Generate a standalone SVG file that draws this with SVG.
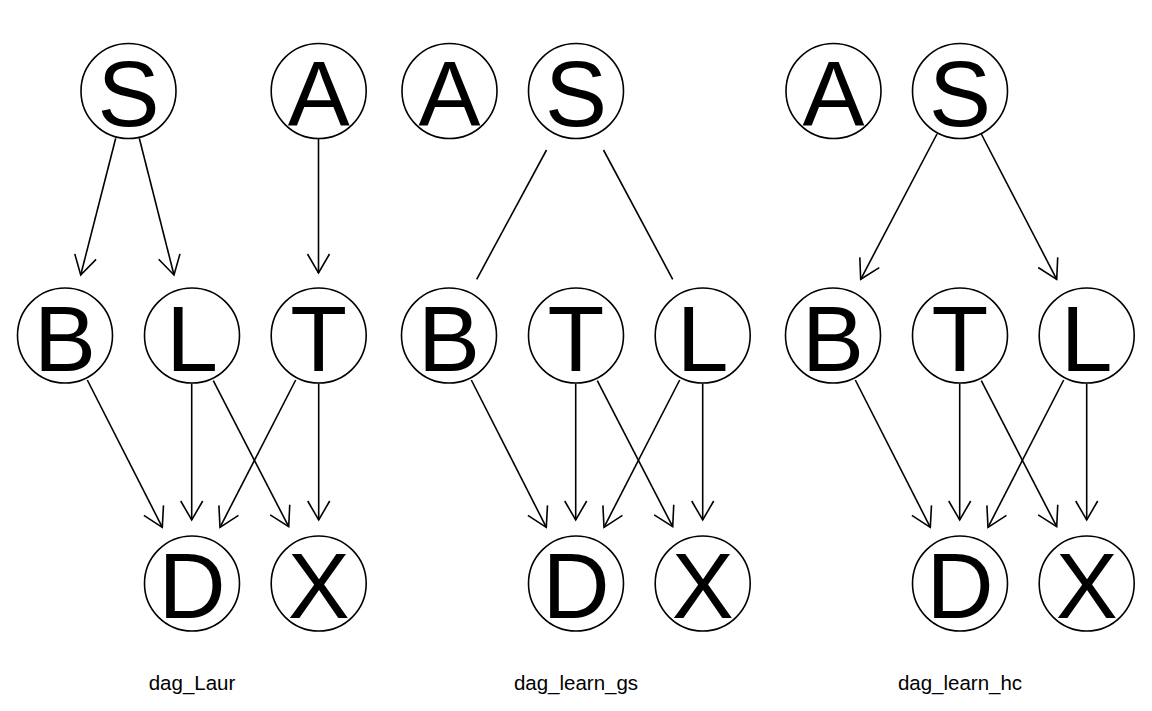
<svg xmlns="http://www.w3.org/2000/svg" width="1152" height="711" viewBox="0 0 1152 711">
<style>
  .node circle { fill: #fff; stroke: #000; stroke-width: 1.6; }
  .node text { font-family: "Liberation Sans", Arial, sans-serif; font-size: 93px; text-anchor: middle; fill: #000; }
  .edges line { stroke: #000; stroke-width: 1.6; fill: none; }
  .edges line.d { marker-end: url(#ah); }
  .lbl { font-family: "Liberation Sans", Arial, sans-serif; font-size: 20.5px; text-anchor: middle; fill: #000; }
</style>
<defs>
  <marker id="ah" markerUnits="userSpaceOnUse" viewBox="-22 -13 24 26" markerWidth="24" markerHeight="26" refX="0" refY="0" orient="auto">
    <path d="M-19,-11 L0,0 L-19,11" fill="none" stroke="#000" stroke-width="1.6"/>
  </marker>
</defs>
<rect width="1152" height="711" fill="#fff"/>

<g class="edges" id="connectors">
  <!-- panel 1: dag_Laur -->
  <line class="d" x1="115.7" y1="138.3" x2="80.7" y2="275"/>
  <line class="d" x1="139.3" y1="138.3" x2="174" y2="275"/>
  <line class="d" x1="318.5" y1="138.3" x2="318.5" y2="273"/>
  <line class="d" x1="87.3" y1="380" x2="162.3" y2="527.3"/>
  <line class="d" x1="191.7" y1="383.5" x2="191.7" y2="520"/>
  <line class="d" x1="213.3" y1="380.7" x2="288.7" y2="526.7"/>
  <line class="d" x1="295.7" y1="380" x2="220" y2="527.3"/>
  <line class="d" x1="318.7" y1="383.5" x2="318.7" y2="520"/>
  <!-- panel 2: dag_learn_gs -->
  <line x1="546.5" y1="150" x2="476.7" y2="279.3"/>
  <line x1="603.5" y1="150" x2="672.7" y2="279.3"/>
  <line class="d" x1="471.3" y1="380" x2="546.3" y2="527.3"/>
  <line class="d" x1="575.7" y1="383.5" x2="575.7" y2="520"/>
  <line class="d" x1="597.3" y1="380.7" x2="672.7" y2="526.7"/>
  <line class="d" x1="679.7" y1="380" x2="604" y2="527.3"/>
  <line class="d" x1="702.7" y1="383.5" x2="702.7" y2="520"/>
  <!-- panel 3: dag_learn_hc -->
  <line class="d" x1="937" y1="134" x2="860.7" y2="279.3"/>
  <line class="d" x1="981.3" y1="134" x2="1056.7" y2="279.3"/>
  <line class="d" x1="855.3" y1="380" x2="930.3" y2="527.3"/>
  <line class="d" x1="959.7" y1="383.5" x2="959.7" y2="520"/>
  <line class="d" x1="981.3" y1="380.7" x2="1056.7" y2="526.7"/>
  <line class="d" x1="1063.7" y1="380" x2="988" y2="527.3"/>
  <line class="d" x1="1086.7" y1="383.5" x2="1086.7" y2="520"/>
</g>

<!-- panel 1 nodes -->
<g class="node" id="p1_S"><circle cx="128.5" cy="91" r="47.5"/><text x="128.5" y="125.5">S</text></g>
<g class="node" id="p1_A"><circle cx="318.7" cy="91" r="47.5"/><text x="318.7" y="125.5">A</text></g>
<g class="node" id="p1_B"><circle cx="65" cy="335.5" r="47.5"/><text x="65" y="370.5">B</text></g>
<g class="node" id="p1_L"><circle cx="192" cy="335.5" r="47.5"/><text x="192" y="370.5">L</text></g>
<g class="node" id="p1_T"><circle cx="318.7" cy="335.5" r="47.5"/><text x="318.7" y="370.5">T</text></g>
<g class="node" id="p1_D"><circle cx="192" cy="583.5" r="47.5"/><text x="192" y="618">D</text></g>
<g class="node" id="p1_X"><circle cx="318.7" cy="583.5" r="47.5"/><text x="318.7" y="618">X</text></g>

<!-- panel 2 nodes -->
<g class="node" id="p2_A"><circle cx="449.5" cy="91" r="47.5"/><text x="449.5" y="125.5">A</text></g>
<g class="node" id="p2_S"><circle cx="576" cy="91" r="47.5"/><text x="576" y="125.5">S</text></g>
<g class="node" id="p2_B"><circle cx="449" cy="335.5" r="47.5"/><text x="449" y="370.5">B</text></g>
<g class="node" id="p2_T"><circle cx="576" cy="335.5" r="47.5"/><text x="576" y="370.5">T</text></g>
<g class="node" id="p2_L"><circle cx="702.7" cy="335.5" r="47.5"/><text x="702.7" y="370.5">L</text></g>
<g class="node" id="p2_D"><circle cx="576" cy="583.5" r="47.5"/><text x="576" y="618">D</text></g>
<g class="node" id="p2_X"><circle cx="702.7" cy="583.5" r="47.5"/><text x="702.7" y="618">X</text></g>

<!-- panel 3 nodes -->
<g class="node" id="p3_A"><circle cx="833.5" cy="91" r="47.5"/><text x="833.5" y="125.5">A</text></g>
<g class="node" id="p3_S"><circle cx="960" cy="91" r="47.5"/><text x="960" y="125.5">S</text></g>
<g class="node" id="p3_B"><circle cx="833" cy="335.5" r="47.5"/><text x="833" y="370.5">B</text></g>
<g class="node" id="p3_T"><circle cx="960" cy="335.5" r="47.5"/><text x="960" y="370.5">T</text></g>
<g class="node" id="p3_L"><circle cx="1086.7" cy="335.5" r="47.5"/><text x="1086.7" y="370.5">L</text></g>
<g class="node" id="p3_D"><circle cx="960" cy="583.5" r="47.5"/><text x="960" y="618">D</text></g>
<g class="node" id="p3_X"><circle cx="1086.7" cy="583.5" r="47.5"/><text x="1086.7" y="618">X</text></g>

<g id="labels">
  <text class="lbl" x="192" y="690">dag_Laur</text>
  <text class="lbl" x="576" y="690">dag_learn_gs</text>
  <text class="lbl" x="960" y="690">dag_learn_hc</text>
</g>
</svg>
